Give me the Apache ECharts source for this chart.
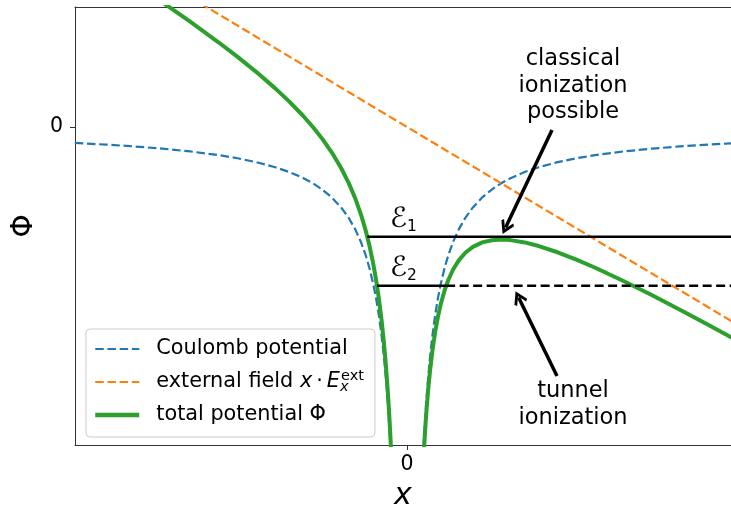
<!DOCTYPE html>
<html><head><meta charset="utf-8">
<script src="https://cdn.jsdelivr.net/npm/echarts@6/dist/echarts.min.js"></script>
<style>html,body{margin:0;padding:0;background:#fff}#c{width:731px;height:511px}</style>
</head><body><div id="c"></div>
<script>
// x samples (left of nucleus, right of nucleus)
const xLeft = [-3.53,-3.2,-2.9,-2.6,-2.3,-2.0,-1.8,-1.6,-1.4,-1.25,-1.1,-1.0,-0.9,-0.8,-0.7,-0.62,-0.55,-0.49,-0.44,-0.40,-0.36,-0.33,-0.30,-0.27,-0.245,-0.225,-0.205,-0.19,-0.175,-0.16,-0.14,-0.12,-0.10];
const coulombLeft = [-0.2833,-0.3125,-0.3448,-0.3846,-0.4348,-0.5,-0.5556,-0.625,-0.7143,-0.8,-0.9091,-1,-1.1111,-1.25,-1.4286,-1.6129,-1.8182,-2.0408,-2.2727,-2.5,-2.7778,-3.0303,-3.3333,-3.7037,-4.0816,-4.4444,-4.878,-5.2632,-5.7143,-6.25,-7.1429,-8.3333,-10];
const totalLeft = [3.2467,2.8875,2.5552,2.2154,1.8652,1.5,1.2444,0.975,0.6857,0.45,0.1909,0,-0.2111,-0.45,-0.7286,-0.9929,-1.2682,-1.5508,-1.8327,-2.1,-2.4178,-2.7003,-3.0333,-3.4337,-3.8366,-4.2194,-4.673,-5.0732,-5.5393,-6.09,-7.0029,-8.2133,-9.9];
const xRight = [0.10,0.12,0.14,0.16,0.175,0.19,0.205,0.225,0.245,0.27,0.30,0.33,0.36,0.40,0.44,0.49,0.55,0.62,0.7,0.8,0.9,1.0,1.1,1.25,1.4,1.6,1.8,2.0,2.3,2.6,2.9,3.2,3.46];
const coulombRight = [-10,-8.3333,-7.1429,-6.25,-5.7143,-5.2632,-4.878,-4.4444,-4.0816,-3.7037,-3.3333,-3.0303,-2.7778,-2.5,-2.2727,-2.0408,-1.8182,-1.6129,-1.4286,-1.25,-1.1111,-1,-0.9091,-0.8,-0.7143,-0.625,-0.5556,-0.5,-0.4348,-0.3846,-0.3448,-0.3125,-0.289];
const totalRight = [-10.1,-8.4533,-7.2829,-6.41,-5.8893,-5.4532,-5.083,-4.6694,-4.3266,-3.9737,-3.6333,-3.3603,-3.1378,-2.9,-2.7127,-2.5308,-2.3682,-2.2329,-2.1286,-2.05,-2.0111,-2,-2.0091,-2.05,-2.1143,-2.225,-2.3556,-2.5,-2.7348,-2.9846,-3.2448,-3.5125,-3.749];
// external field line
const fieldX = [-3.53, 3.46];
const fieldY = [3.53, -3.46];
// energy levels
const levelE1 = -1.95;
const levelE2 = -2.82;
const e1X = [-0.4217, 3.46];
const e2SolidX = [-0.3186, 0.416];
const e2DashX = [0.416, 3.46];
// axis ranges and ticks
const xRange = [-3.528, 3.443];
const yRange = [-5.648, 2.131];
const xTicks = [0];
const yTicks = [0];
// annotations (data coordinates)
const arrow1 = [[1.541, -0.053], [1.048, -1.787]];
const arrow2 = [[1.594, -4.423], [1.186, -3.027]];
const textClassical = [1.764, 0.728];
const textTunnel = [1.764, -4.929];
const textE1 = [-0.181, -1.652];
const textE2 = [-0.181, -2.522];

const pairs = (xs, ys) => xs.map((x, i) => [x, ys[i]]);
const FONT = 'DejaVu Sans';
const BLUE = '#1f77b4', ORANGE = '#ff7f0e', GREEN = '#2ca02c';
const chevron = 'path://M50,0 L100,85 L86,100 L50,40 L14,100 L0,85 Z';

const chart = echarts.init(document.getElementById('c'), null, {renderer: 'canvas'});
const axisLineStyle = {color: '#333', width: 1};

const labelSeries = (name, pos, label) => ({
  type: 'scatter', name: name, symbolSize: 1, silent: true,
  itemStyle: {color: 'rgba(0,0,0,0)', opacity: 1},
  data: [{value: pos}],
  label: Object.assign({show: true, position: 'inside', color: '#000', fontFamily: FONT, opacity: 1}, label),
  z: 10
});
const eRich = {
  e: {fontSize: 28, fontFamily: FONT, color: '#000', lineHeight: 30},
  s: {fontSize: 15.5, fontFamily: FONT, color: '#000', lineHeight: 16, verticalAlign: 'bottom'}
};
const LF = 20.8;

chart.setOption({
  animation: false,
  textStyle: {fontFamily: FONT},
  grid: {left: 75, right: 0, top: 7, bottom: 66, containLabel: false, outerBoundsMode: 'none'},
  xAxis: [{
    type: 'value', min: xRange[0], max: xRange[1],
    axisLine: {show: true, onZero: false, lineStyle: axisLineStyle},
    axisTick: {show: true, length: 5, customValues: xTicks, lineStyle: axisLineStyle},
    axisLabel: {show: true, customValues: xTicks, fontSize: 20.5, color: '#000', margin: 9, fontFamily: FONT},
    splitLine: {show: false},
    name: 'x', nameLocation: 'middle', nameGap: 36,
    nameTextStyle: {fontSize: 30, fontStyle: 'italic', color: '#000', fontFamily: FONT}
  }, {
    type: 'value', position: 'top', min: xRange[0], max: xRange[1],
    axisLine: {show: true, onZero: false, lineStyle: axisLineStyle},
    axisTick: {show: false}, axisLabel: {show: false}, splitLine: {show: false}
  }],
  yAxis: {
    type: 'value', min: yRange[0], max: yRange[1],
    axisLine: {show: true, onZero: false, lineStyle: axisLineStyle},
    axisTick: {show: true, length: 5, customValues: yTicks, lineStyle: axisLineStyle},
    axisLabel: {show: true, customValues: yTicks, fontSize: 20.5, color: '#000', margin: 12, fontFamily: FONT},
    splitLine: {show: false},
    name: 'Φ', nameLocation: 'middle', nameGap: 32, nameRotate: 90,
    nameTextStyle: {fontSize: 30, color: '#000', fontFamily: FONT}
  },
  legend: {
    data: [
      {name: 'Coulomb potential'},
      {name: 'external field'},
      {name: 'total potential Φ', lineStyle: {width: 4.5}}
    ],
    orient: 'vertical', left: 86, top: 329,
    padding: [7, 11, 9, 7],
    itemWidth: 44, itemHeight: 14, itemGap: 7,
    itemStyle: {color: 'rgba(0,0,0,0)', borderWidth: 0, opacity: 0},
    lineStyle: {width: 2.2},
    backgroundColor: 'rgba(255,255,255,0.8)', borderColor: '#cccccc', borderWidth: 1, borderRadius: 4,
    textStyle: {
      fontFamily: FONT, fontSize: LF, color: '#000', padding: [0, 0, 0, 12], lineHeight: 26,
      rich: {
        t: {fontFamily: FONT, fontSize: LF, color: '#000', lineHeight: 26},
        d: {fontFamily: FONT, fontSize: LF, color: '#000', lineHeight: 26, padding: [0, 4, 0, 4]},
        i: {fontFamily: FONT, fontSize: LF, fontStyle: 'italic', color: '#000', lineHeight: 26},
        sub: {fontFamily: FONT, fontSize: 14.5, fontStyle: 'italic', color: '#000', lineHeight: 14, verticalAlign: 'bottom', width: 1},
        sup: {fontFamily: FONT, fontSize: 14.5, color: '#000', lineHeight: 14, verticalAlign: 'top'}
      }
    },
    formatter: function (name) {
      if (name === 'external field') return '{t|external field }{i|x}{d|·}{i|E}{sub|x}{sup|ext}';
      return '{t|' + name + '}';
    }
  },
  series: [
    {type: 'line', name: 'Coulomb potential', data: pairs(xLeft, coulombLeft), symbol: 'none', clip: true,
     lineStyle: {color: BLUE, width: 2.2, type: [8.5, 3.7]}, itemStyle: {color: BLUE}, z: 2},
    {type: 'line', name: 'Coulomb potential', data: pairs(xRight, coulombRight), symbol: 'none', clip: true,
     lineStyle: {color: BLUE, width: 2.2, type: [8.5, 3.7]}, itemStyle: {color: BLUE}, z: 2},
    {type: 'line', name: 'external field', data: pairs(fieldX, fieldY), symbol: 'none', clip: true,
     lineStyle: {color: ORANGE, width: 2.2, type: [8.5, 3.7]}, itemStyle: {color: ORANGE}, z: 2},
    {type: 'line', name: 'total potential Φ', data: pairs(xLeft, totalLeft), symbol: 'none', clip: true,
     lineStyle: {color: GREEN, width: 4}, itemStyle: {color: GREEN}, z: 3},
    {type: 'line', name: 'total potential Φ', data: pairs(xRight, totalRight), symbol: 'none', clip: true,
     lineStyle: {color: GREEN, width: 4}, itemStyle: {color: GREEN}, z: 3},
    {type: 'line', name: 'E1', data: pairs(e1X, [levelE1, levelE1]), symbol: 'none', clip: true,
     lineStyle: {color: '#000', width: 2.5}, z: 4},
    {type: 'line', name: 'E2 classical', data: pairs(e2SolidX, [levelE2, levelE2]), symbol: 'none', clip: true,
     lineStyle: {color: '#000', width: 2.5}, z: 4},
    {type: 'line', name: 'E2 tunnel', data: pairs(e2DashX, [levelE2, levelE2]), symbol: 'none', clip: true,
     lineStyle: {color: '#000', width: 2.5, type: [9, 4.5]}, z: 4},
    {type: 'lines', name: 'arrows', coordinateSystem: 'cartesian2d', silent: true,
     symbol: ['none', chevron], symbolSize: 14,
     lineStyle: {color: '#000', width: 3.5, opacity: 1},
     itemStyle: {color: '#000'},
     data: [{coords: arrow1}, {coords: arrow2}], z: 6},
    labelSeries('lblClassical', textClassical, {formatter: 'classical\nionization\npossible', fontSize: 22.5, lineHeight: 26.5, align: 'center', verticalAlign: 'middle'}),
    labelSeries('lblTunnel', textTunnel, {formatter: 'tunnel\nionization', fontSize: 22.5, lineHeight: 26.5, align: 'center', verticalAlign: 'middle'}),
    labelSeries('lblE1', textE1, {formatter: '{e|ℰ}{s|1}', align: 'left', verticalAlign: 'middle', rich: eRich}),
    labelSeries('lblE2', textE2, {formatter: '{e|ℰ}{s|2}', align: 'left', verticalAlign: 'middle', rich: eRich})
  ]
});
</script>
</body></html>
